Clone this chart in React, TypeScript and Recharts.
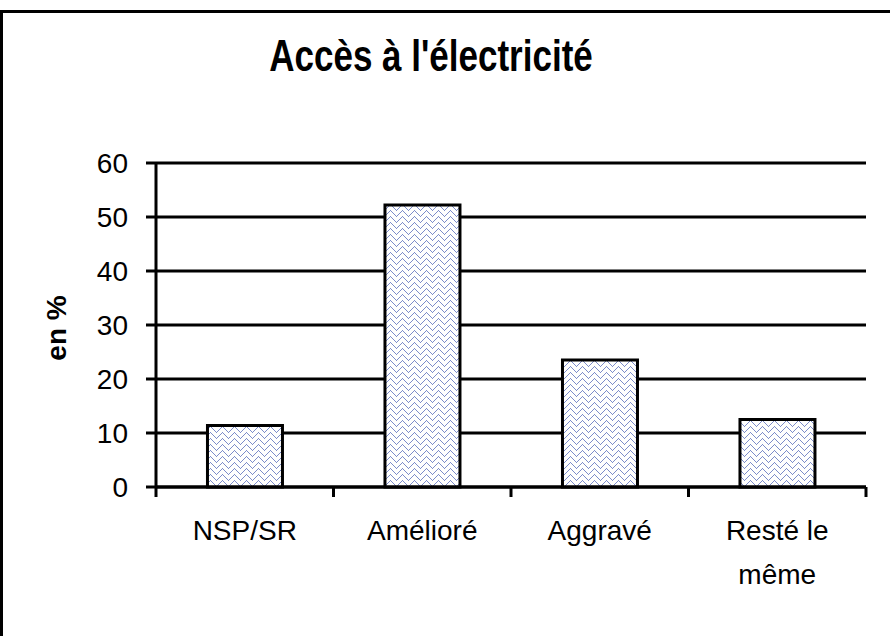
import { BarChart, Bar, XAxis, YAxis, CartesianGrid } from 'recharts'

// "\n" marks where a long label wraps under its bar
const categories = ['NSP/SR', 'Amélioré', 'Aggravé', 'Resté le\nmême']
const values = [11.4, 52.2, 23.5, 12.5]
const yTicks = [0, 10, 20, 30, 40, 50, 60]
// boundaries between categories, used only for the small tick marks under the axis
const edgeTicks = [0, 1, 2, 3, 4]

const data = categories.map((name, i) => ({ name, value: values[i] }))

const FONT = '"Liberation Sans", Arial, sans-serif'
const WEAVE = '#7d8dca'

// zigzag weave, one 12x12 tile of 1px dots
const weaveDots = Array.from({ length: 12 }, (_, x) => {
  const y = Math.abs(x - 6)
  return [
    [x, y],
    [x, (y + 6) % 12],
  ]
}).flat()

function CategoryTick({ x, y, payload }: any) {
  const lines = String(payload.value).split('\n')
  return (
    <text x={x} y={y} textAnchor="middle" fontSize={28} fontFamily={FONT} fill="#000">
      {lines.map((line, i) => (
        <tspan key={i} x={x} dy={i === 0 ? 20 : 44}>
          {line}
        </tspan>
      ))}
    </text>
  )
}

function AxisTitle({ viewBox }: any) {
  const cx = viewBox.x + 56
  const cy = viewBox.y + viewBox.height / 2 + 3
  return (
    <text
      transform={`translate(${cx},${cy}) rotate(-90)`}
      textAnchor="middle"
      dy="0.35em"
      fontSize={28}
      fontWeight="bold"
      fontFamily={FONT}
      fill="#000"
    >
      en %
    </text>
  )
}

export default function App() {
  return (
    <div style={{ position: 'absolute', left: 0, top: 0, width: 890, height: 636, background: '#fff', overflow: 'hidden' }}>
      <div
        style={{
          position: 'absolute',
          left: 0,
          top: 10,
          width: 890,
          height: 626,
          borderTop: '3px solid #000',
          borderLeft: '3px solid #000',
        }}
      />
      <div
        style={{
          position: 'absolute',
          left: 0,
          top: 41,
          width: 862,
          textAlign: 'center',
          fontFamily: FONT,
          fontWeight: 'bold',
          fontSize: 35,
          lineHeight: 1,
          color: '#000',
          transform: 'scaleY(1.25)',
          transformOrigin: '50% 30px',
        }}
      >
        Accès à l'électricité
      </div>
      <div style={{ position: 'absolute', left: 0, top: 0 }}>
        <BarChart
          width={890}
          height={636}
          data={data}
          margin={{ top: 163, right: 24, bottom: 118, left: 0 }}
          barCategoryGap="29%"
        >
          <defs>
            <pattern id="weave" width={12} height={12} patternUnits="userSpaceOnUse">
              <rect width={12} height={12} fill="#fff" />
              {weaveDots.map(([px, py], i) => (
                <rect key={i} x={px} y={py} width={1} height={1} fill={WEAVE} />
              ))}
            </pattern>
          </defs>
          <CartesianGrid xAxisId="cat" vertical={false} stroke="#000" strokeWidth={3} />
          <XAxis
            xAxisId="cat"
            dataKey="name"
            height={30}
            axisLine={false}
            tickLine={false}
            tickSize={0}
            tickMargin={32}
            interval={0}
            tick={<CategoryTick />}
          />
          <XAxis
            xAxisId="aEdges"
            dataKey="edge"
            type="number"
            domain={[0, 4]}
            allowDataOverflow
            ticks={edgeTicks}
            interval={0}
            height={1}
            tick={() => <g />}
            tickSize={10}
            axisLine={{ stroke: '#000', strokeWidth: 3 }}
            tickLine={{ stroke: '#000', strokeWidth: 3 }}
          />
          <YAxis
            width={156}
            domain={[0, 60]}
            ticks={yTicks}
            interval={0}
            tickSize={10}
            tickMargin={18}
            axisLine={{ stroke: '#000', strokeWidth: 3 }}
            tickLine={{ stroke: '#000', strokeWidth: 3 }}
            tick={{ fill: '#000', fontSize: 28, fontFamily: FONT }}
            label={<AxisTitle />}
          />
          <Bar
            xAxisId="cat"
            dataKey="value"
            fill="url(#weave)"
            stroke="#000"
            strokeWidth={3}
            isAnimationActive={false}
          />
        </BarChart>
      </div>
    </div>
  )
}
